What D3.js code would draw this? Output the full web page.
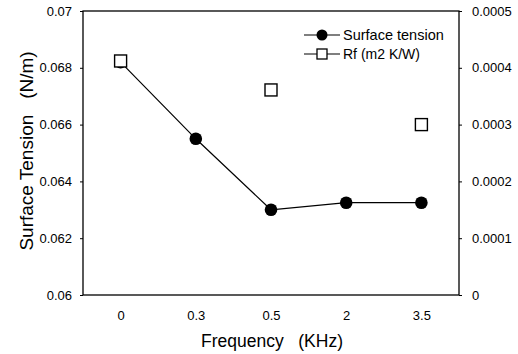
<!DOCTYPE html>
<html>
<head>
<meta charset="utf-8">
<script src="https://cdn.jsdelivr.net/npm/d3@7"></script>
<style>
  body { margin: 0; background: #fff; }
  svg text { font-family: Arial, "Liberation Sans", sans-serif; fill: #000; }
</style>
</head>
<body>
<div id="chart"></div>
<script>
// chart data
const frequencies = ['0', '0.3', '0.5', '2', '3.5'];
const surfaceTension = [0.0682, 0.0655, 0.0630, 0.06325, 0.06325];
const rfFreq = ['0', '0.5', '3.5'];
const rfValues = [0.000412, 0.000361, 0.0003];
const leftTicks = [0.06, 0.062, 0.064, 0.066, 0.068, 0.07];
const rightTicks = [0, 0.0001, 0.0002, 0.0003, 0.0004, 0.0005];

const width = 518, height = 354;
const margin = { top: 11, right: 59, bottom: 59, left: 83 };

const svg = d3.select('#chart').append('svg')
  .attr('width', width)
  .attr('height', height);

const x = d3.scalePoint()
  .domain(frequencies)
  .range([margin.left, width - margin.right])
  .padding(0.5);

const yLeft = d3.scaleLinear()
  .domain([0.06, 0.07])
  .range([height - margin.bottom, margin.top]);

const yRight = d3.scaleLinear()
  .domain([0, 0.0005])
  .range([height - margin.bottom, margin.top]);

// plot frame
svg.append('rect')
  .attr('x', margin.left)
  .attr('y', margin.top)
  .attr('width', width - margin.left - margin.right)
  .attr('height', height - margin.top - margin.bottom)
  .attr('fill', 'none')
  .attr('stroke', '#000')
  .attr('stroke-width', 1.3);

// left axis
const gl = svg.append('g')
  .attr('transform', `translate(${margin.left},0)`)
  .call(d3.axisLeft(yLeft).tickValues(leftTicks).tickSize(3).tickPadding(8)
    .tickFormat(d => d === 0.06 ? '0.06' : d === 0.07 ? '0.07' : d3.format('.3f')(d)));
gl.select('.domain').remove();
gl.selectAll('text').attr('font-size', 13);

// right axis
const gr = svg.append('g')
  .attr('transform', `translate(${width - margin.right},0)`)
  .call(d3.axisRight(yRight).tickValues(rightTicks).tickSize(3).tickPadding(10)
    .tickFormat(d => d === 0 ? '0' : d3.format('.4f')(d)));
gr.select('.domain').remove();
gr.selectAll('text').attr('font-size', 13);

// bottom axis
const gb = svg.append('g')
  .attr('transform', `translate(0,${height - margin.bottom})`)
  .call(d3.axisBottom(x).tickSize(0).tickPadding(16));
gb.select('.domain').remove();
gb.selectAll('text').attr('font-size', 13);

// axis titles
svg.append('text')
  .attr('x', 272)
  .attr('y', 347)
  .attr('text-anchor', 'middle')
  .attr('font-size', 17.5)
  .attr('xml:space', 'preserve')
  .text('Frequency   (KHz)');

svg.append('text')
  .attr('transform', 'translate(33,151) rotate(-90)')
  .attr('text-anchor', 'middle')
  .attr('font-size', 19)
  .attr('xml:space', 'preserve')
  .text('Surface Tension   (N/m)');

// surface tension line + markers
const line = d3.line()
  .x((d, i) => x(frequencies[i]))
  .y(d => yLeft(d));

svg.append('path')
  .datum(surfaceTension)
  .attr('d', line)
  .attr('fill', 'none')
  .attr('stroke', '#000')
  .attr('stroke-width', 1.2);

svg.selectAll('.st-dot')
  .data(surfaceTension)
  .enter().append('circle')
  .attr('class', 'st-dot')
  .attr('cx', (d, i) => x(frequencies[i]))
  .attr('cy', d => yLeft(d))
  .attr('r', 6.3)
  .attr('fill', '#000');

// Rf markers
const sq = 12;
svg.selectAll('.rf-sq')
  .data(rfValues)
  .enter().append('rect')
  .attr('class', 'rf-sq')
  .attr('x', (d, i) => x(rfFreq[i]) - sq / 2)
  .attr('y', d => yRight(d) - sq / 2)
  .attr('width', sq)
  .attr('height', sq)
  .attr('fill', '#fff')
  .attr('stroke', '#000')
  .attr('stroke-width', 1.4);

// legend
const lg = svg.append('g').attr('transform', 'translate(304,35)');
lg.append('line').attr('x1', 0).attr('x2', 36).attr('y1', 0).attr('y2', 0)
  .attr('stroke', '#000').attr('stroke-width', 1.2);
lg.append('circle').attr('cx', 18).attr('cy', 0).attr('r', 5.5).attr('fill', '#000');
lg.append('text').attr('x', 39).attr('y', 5).attr('font-size', 14.5).text('Surface tension');

const lg2 = svg.append('g').attr('transform', 'translate(304,54)');
lg2.append('line').attr('x1', 0).attr('x2', 36).attr('y1', 0).attr('y2', 0)
  .attr('stroke', '#000').attr('stroke-width', 1.2);
lg2.append('rect').attr('x', 13).attr('y', -5).attr('width', 10).attr('height', 10)
  .attr('fill', '#fff').attr('stroke', '#000').attr('stroke-width', 1.3);
lg2.append('text').attr('x', 39).attr('y', 5).attr('font-size', 14).text('Rf (m2 K/W)');
</script>
</body>
</html>
